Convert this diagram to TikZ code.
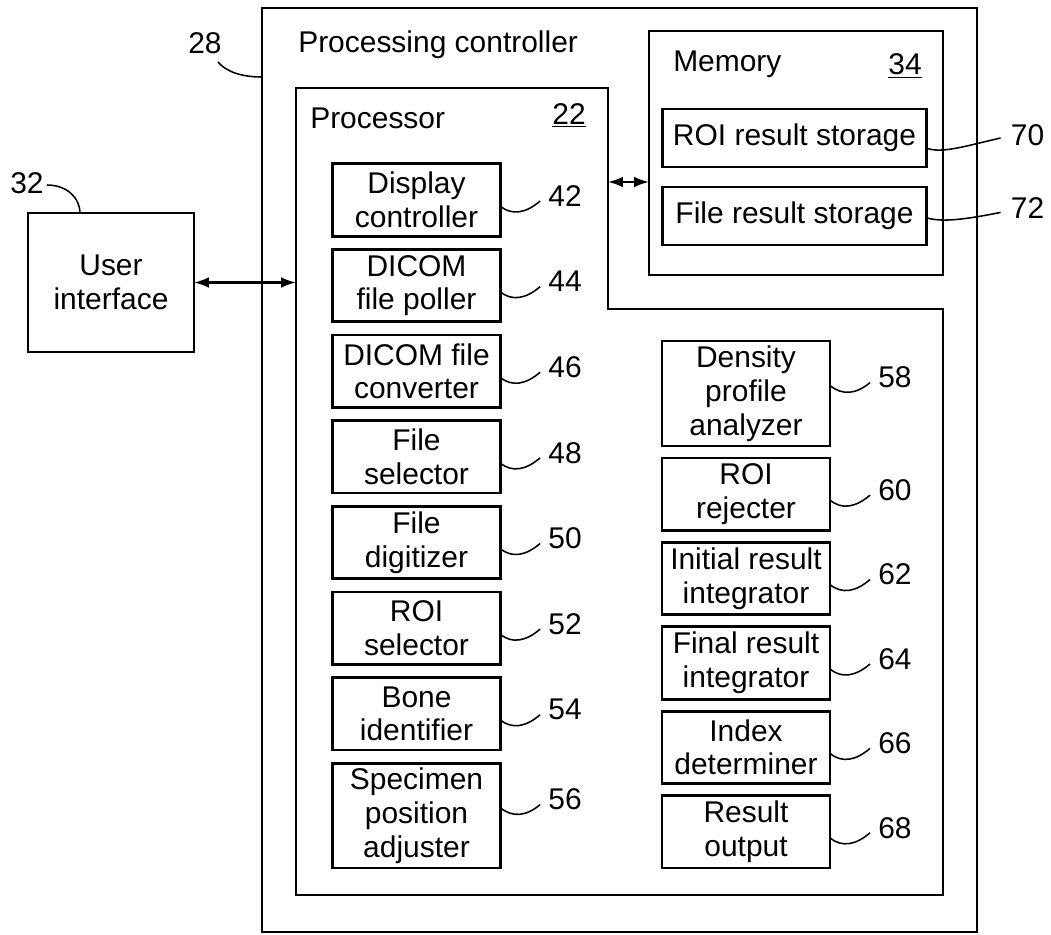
\documentclass[tikz,border=0pt]{standalone}
\usepackage{fontspec}
\setmainfont{Liberation Sans}
\usetikzlibrary{positioning}
\usetikzlibrary{arrows.meta}

\begin{document}
\begin{tikzpicture}[x=0.025cm, y=-0.025cm,
			font=\fontsize{21.3}{24}\selectfont,
			block/.style={draw, line width=2pt, align=center, inner sep=0pt, outer sep=0pt,
				minimum width=4.18cm, minimum height=1.81cm},
			tall/.style={block, minimum height=2.62cm},
			title/.style={anchor=west, inner sep=0pt},
			num/.style={inner sep=0pt},
			lead/.style={line width=1.1pt},
			dbl/.style={line width=1.5pt, <->, >={Latex[length=10.5pt,width=7.5pt]}}]
		\useasboundingbox (0,0) rectangle (1051,934);
		\draw[line width=2pt] (262,8) rectangle (977,932);
		\draw[line width=2pt] (296,88) -- (608,88) -- (608,309) -- (943,309) -- (943,895) -- (296,895) -- cycle;
		\node[title] (ctrltitle) at (298,45) {Processing controller};
		\node[title] (proctitle) at (310,118) {Processor};
		\node[num] (procnum) at (569,115) {\underline{22}};
		\node[num] (n28) at (205,43) {28};
		\coordinate (ctrlw) at (262,77);

		\node[block, minimum width=4.15cm, minimum height=3.475cm] (ui) at (111,282.5) {User\\interface};
		\node[num] (n32) at (27,183) {32};
		\coordinate (procw) at (296,282.5);

		\node[block, minimum width=7.35cm, minimum height=6.1cm] (mem) at (796,153) {};
		\node[title] (memtitle) at (673,64) {Memory};
		\node[num] (memnum) at (905,66) {\underline{34}};
		\node[block, minimum width=6.58cm, minimum height=1.45cm] (roistore) at (794.5,138) {ROI result storage};
		\node[block, minimum width=6.58cm, minimum height=1.45cm, below=0.5cm of roistore] (filestore) {File result storage};
		\node[num, right=2.11cm of roistore, yshift=0.075cm] (n70) {70};
		\node[num, right=2.11cm of filestore, yshift=0.19cm] (n72) {72};
		\coordinate (proce) at (608,182);

		\node[block] (dispctl) at (416.5,200) {Display\\controller};
		\node[block, below=0.33cm of dispctl] (poller) {DICOM\\file poller};
		\node[block, below=0.33cm of poller] (converter) {DICOM file\\converter};
		\node[block, below=0.33cm of converter] (filesel) {File\\selector};
		\node[block, below=0.33cm of filesel] (digitizer) {File\\digitizer};
		\node[block, below=0.33cm of digitizer] (roisel) {ROI\\selector};
		\node[block, below=0.33cm of roisel] (boneid) {Bone\\identifier};
		\node[tall, below=0.33cm of boneid] (adjuster) {Specimen\\position\\adjuster};

		\node[tall, minimum width=4.2cm] (density) at (746,393.5) {Density\\profile\\analyzer};
		\node[block, minimum width=4.2cm, below=0.3cm of density] (rejecter) {ROI\\rejecter};
		\node[block, minimum width=4.2cm, below=0.3cm of rejecter] (initint) {Initial result\\integrator};
		\node[block, minimum width=4.2cm, below=0.3cm of initint] (finalint) {Final result\\integrator};
		\node[block, minimum width=4.2cm, below=0.3cm of finalint] (indexdet) {Index\\determiner};
		\node[block, minimum width=4.2cm, below=0.3cm of indexdet] (output) {Result\\output};

		\node[num, right=1.2cm of dispctl, yshift=0.1cm] (n42) {42};
		\node[num, right=1.2cm of poller, yshift=0.1cm] (n44) {44};
		\node[num, right=1.2cm of converter, yshift=0.1cm] (n46) {46};
		\node[num, right=1.2cm of filesel, yshift=0.1cm] (n48) {48};
		\node[num, right=1.2cm of digitizer, yshift=0.1cm] (n50) {50};
		\node[num, right=1.2cm of roisel, yshift=0.1cm] (n52) {52};
		\node[num, right=1.2cm of boneid, yshift=0.1cm] (n54) {54};
		\node[num, right=1.2cm of adjuster, yshift=0.4cm] (n56) {56};
		\node[num, right=1.2cm of density, yshift=0.4cm] (n58) {58};
		\node[num, right=1.2cm of rejecter, yshift=0.1cm] (n60) {60};
		\node[num, right=1.2cm of initint, yshift=0.1cm] (n62) {62};
		\node[num, right=1.2cm of finalint, yshift=0.1cm] (n64) {64};
		\node[num, right=1.2cm of indexdet, yshift=0.1cm] (n66) {66};
		\node[num, right=1.2cm of output, yshift=0.1cm] (n68) {68};

		\draw[dbl] (ui.east) -- (procw);
		\draw[dbl] (proce) -- (proce -| mem.west);
		\draw[lead] ([shift={(13,8)}]n28.south) .. controls +(8,10) and +(-20,0) .. (ctrlw);
		\draw[lead] ([shift={(3,2)}]n32.east) .. controls +(20,0) and +(0,-15) .. ([shift={(-31,0)}]ui.north);
		\draw[lead] ([yshift=-0.25cm]roistore.east) .. controls +(15,6) and +(-35,8) .. ([shift={(-10,3)}]n70.west);
		\draw[lead] ([yshift=-0.04cm]filestore.east) .. controls +(15,5) and +(-35,7) .. ([shift={(-10,4)}]n72.west);
		\draw[lead] ([yshift=-0.15cm]dispctl.east) .. controls +(12,10) and +(-14,12) .. ([shift={(-8,5)}]n42.west);
		\draw[lead] ([yshift=-0.15cm]poller.east) .. controls +(12,10) and +(-14,12) .. ([shift={(-8,5)}]n44.west);
		\draw[lead] ([yshift=-0.15cm]converter.east) .. controls +(12,10) and +(-14,12) .. ([shift={(-8,5)}]n46.west);
		\draw[lead] ([yshift=-0.15cm]filesel.east) .. controls +(12,10) and +(-14,12) .. ([shift={(-8,5)}]n48.west);
		\draw[lead] ([yshift=-0.15cm]digitizer.east) .. controls +(12,10) and +(-14,12) .. ([shift={(-8,5)}]n50.west);
		\draw[lead] ([yshift=-0.15cm]roisel.east) .. controls +(12,10) and +(-14,12) .. ([shift={(-8,5)}]n52.west);
		\draw[lead] ([yshift=-0.15cm]boneid.east) .. controls +(12,10) and +(-14,12) .. ([shift={(-8,5)}]n54.west);
		\draw[lead] ([yshift=0.2cm]adjuster.east) .. controls +(12,10) and +(-14,12) .. ([shift={(-8,5)}]n56.west);
		\draw[lead] ([yshift=0.2cm]density.east) .. controls +(12,10) and +(-14,12) .. ([shift={(-8,5)}]n58.west);
		\draw[lead] ([yshift=-0.15cm]rejecter.east) .. controls +(12,10) and +(-14,12) .. ([shift={(-8,5)}]n60.west);
		\draw[lead] ([yshift=-0.15cm]initint.east) .. controls +(12,10) and +(-14,12) .. ([shift={(-8,5)}]n62.west);
		\draw[lead] ([yshift=-0.15cm]finalint.east) .. controls +(12,10) and +(-14,12) .. ([shift={(-8,5)}]n64.west);
		\draw[lead] ([yshift=-0.15cm]indexdet.east) .. controls +(12,10) and +(-14,12) .. ([shift={(-8,5)}]n66.west);
		\draw[lead] ([yshift=-0.15cm]output.east) .. controls +(12,10) and +(-14,12) .. ([shift={(-8,5)}]n68.west);
	\end{tikzpicture}
\end{document}
